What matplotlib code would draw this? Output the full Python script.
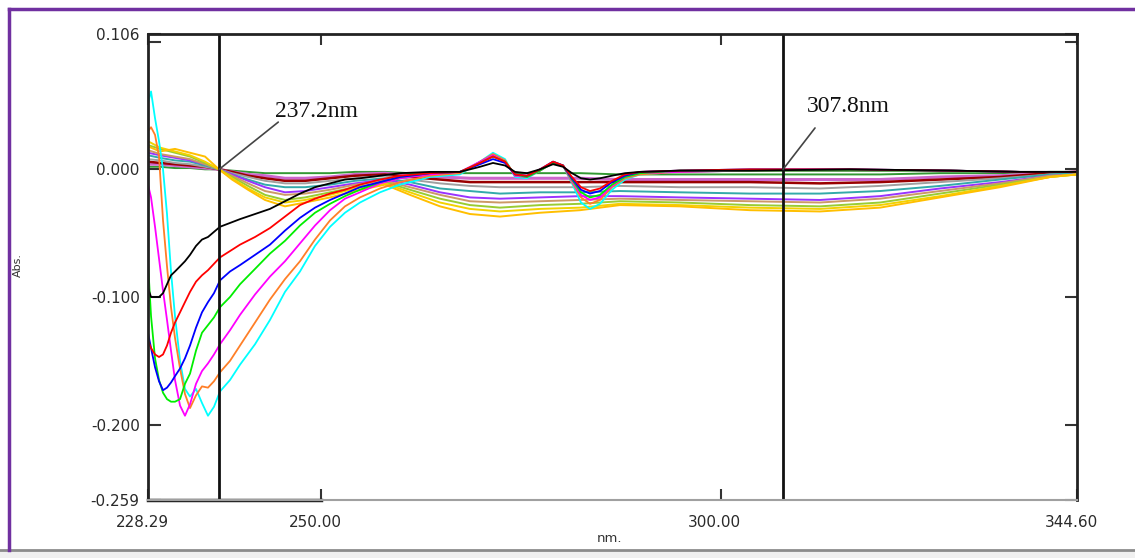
import numpy as np
import matplotlib
matplotlib.use('Agg')
import matplotlib.pyplot as plt
from matplotlib.transforms import ScaledTranslation
from matplotlib.patches import Rectangle
from matplotlib.lines import Line2D

# --- data (nm, Abs.) ---
# strong-trough spectra share one wavelength grid
nm_a = [228.29, 228.67, 229.17, 229.67, 230.17, 230.67, 231.17, 231.67, 232.30, 232.92,
        233.55, 234.30, 235.05, 235.80, 236.55, 237.30, 238.56, 239.81, 241.69, 243.56,
        245.44, 247.32, 249.20, 251.08, 252.95, 254.83, 257.34, 259.84, 263.60, 267.35,
        269.86, 271.48, 272.99, 274.24, 275.74, 277.37, 279.00, 280.25, 281.37, 282.50,
        283.63, 284.88, 286.38, 288.01, 289.89, 294.90, 303.66, 316.18, 328.70, 337.46, 344.60]

black_abs = [-0.093, -0.100, -0.100, -0.100, -0.097, -0.090, -0.083, -0.080, -0.076, -0.072, -0.067, -0.060, -0.055, -0.053, -0.049, -0.045,
             -0.042, -0.039, -0.035, -0.031, -0.025, -0.019, -0.014, -0.011, -0.008, -0.007, -0.005, -0.003, -0.002,
             -0.002, 0.002, 0.005, 0.003, -0.002, -0.003, 0.000, 0.004, 0.002, -0.003, -0.007, -0.008, -0.007, -0.005, -0.003, -0.002, -0.001, -0.001, 0.000, -0.001, -0.002, -0.002]
red_abs = [-0.134, -0.140, -0.145, -0.147, -0.145, -0.138, -0.128, -0.120, -0.112, -0.104, -0.096, -0.088, -0.083, -0.079, -0.074, -0.069,
           -0.064, -0.059, -0.053, -0.046, -0.037, -0.028, -0.023, -0.019, -0.016, -0.012, -0.008, -0.005, -0.003,
           -0.002, 0.005, 0.010, 0.006, -0.004, -0.005, 0.000, 0.006, 0.003, -0.006, -0.014, -0.017, -0.015, -0.009, -0.004, -0.002, -0.001, 0.000, 0.000, -0.001, -0.002, -0.002]
blue_abs = [-0.128, -0.140, -0.155, -0.166, -0.173, -0.171, -0.167, -0.162, -0.156, -0.148, -0.138, -0.124, -0.112, -0.104, -0.097, -0.087,
            -0.080, -0.075, -0.067, -0.059, -0.048, -0.038, -0.030, -0.024, -0.019, -0.014, -0.010, -0.006, -0.003,
            -0.002, 0.004, 0.008, 0.005, -0.004, -0.005, 0.000, 0.006, 0.003, -0.007, -0.016, -0.019, -0.017, -0.010, -0.005, -0.002, -0.001, 0.000, 0.000, -0.001, -0.002, -0.002]
green_abs = [-0.073, -0.115, -0.148, -0.165, -0.175, -0.180, -0.182, -0.182, -0.180, -0.168, -0.160, -0.142, -0.128, -0.122, -0.116, -0.108,
             -0.100, -0.090, -0.078, -0.066, -0.056, -0.044, -0.034, -0.027, -0.021, -0.016, -0.010, -0.006, -0.003,
             -0.002, 0.005, 0.010, 0.006, -0.004, -0.006, -0.001, 0.005, 0.003, -0.008, -0.018, -0.022, -0.020, -0.012, -0.006, -0.003, -0.001, -0.001, -0.001, -0.001, -0.002, -0.002]
magenta_abs = [-0.012, -0.022, -0.045, -0.070, -0.095, -0.118, -0.142, -0.165, -0.185, -0.193, -0.184, -0.168, -0.158, -0.152, -0.145, -0.137,
               -0.126, -0.114, -0.098, -0.084, -0.072, -0.058, -0.044, -0.032, -0.023, -0.018, -0.011, -0.007, -0.004,
               -0.002, 0.006, 0.011, 0.006, -0.005, -0.006, -0.001, 0.005, 0.003, -0.009, -0.020, -0.024, -0.022, -0.013, -0.006, -0.003, -0.002, -0.001, -0.001, -0.001, -0.002, -0.002]
orange_abs = [0.030, 0.033, 0.027, 0.010, -0.040, -0.076, -0.108, -0.132, -0.156, -0.176, -0.187, -0.177, -0.170, -0.171, -0.166, -0.159,
              -0.150, -0.138, -0.120, -0.102, -0.086, -0.072, -0.055, -0.040, -0.029, -0.022, -0.015, -0.010, -0.005,
              -0.003, 0.006, 0.012, 0.007, -0.005, -0.006, -0.001, 0.006, 0.003, -0.010, -0.022, -0.027, -0.024, -0.014, -0.007, -0.004, -0.002, -0.001, -0.001, -0.001, -0.002, -0.002]
cyan_abs = [0.052, 0.061, 0.040, 0.022, 0.000, -0.035, -0.080, -0.115, -0.150, -0.172, -0.178, -0.172, -0.183, -0.193, -0.186, -0.174,
            -0.165, -0.153, -0.137, -0.118, -0.096, -0.080, -0.060, -0.045, -0.034, -0.026, -0.018, -0.012, -0.006,
            -0.004, 0.006, 0.013, 0.008, -0.006, -0.007, -0.001, 0.006, 0.003, -0.011, -0.026, -0.031, -0.027, -0.016, -0.008, -0.004, -0.002, -0.001, -0.001, -0.001, -0.002, -0.002]

# shallow spectra (isosbestic at 237.2 nm) share a second grid
nm_b = [228.29, 229.79, 231.67, 233.55, 235.43, 237.18, 238.81, 240.81, 242.94, 245.44,
        247.95, 251.08, 254.21, 257.96, 261.09, 264.85, 268.60, 272.36, 277.37, 282.38,
        287.38, 294.90, 303.66, 312.42, 319.94, 327.45, 334.96, 341.22, 344.60]

darkgreen_abs = [0.002, 0.002, 0.001, 0.001, 0.000, 0.000, -0.001, -0.002, -0.003, -0.003, -0.003, -0.003, -0.002, -0.002, -0.003,
                 -0.003, -0.003, -0.003, -0.003, -0.003, -0.004, -0.004, -0.004, -0.004, -0.004, -0.003, -0.003, -0.002, -0.002]
orchid_abs = [0.004, 0.004, 0.003, 0.002, 0.001, 0.000, -0.002, -0.004, -0.005, -0.007, -0.007, -0.006, -0.004, -0.003, -0.005,
              -0.006, -0.007, -0.007, -0.007, -0.007, -0.008, -0.008, -0.008, -0.008, -0.008, -0.006, -0.005, -0.003, -0.002]
maroon_abs = [0.006, 0.005, 0.004, 0.003, 0.002, 0.000, -0.002, -0.005, -0.007, -0.009, -0.009, -0.007, -0.005, -0.004, -0.006,
              -0.008, -0.010, -0.010, -0.010, -0.010, -0.010, -0.010, -0.010, -0.011, -0.010, -0.008, -0.006, -0.003, -0.002]
gray_abs = [0.008, 0.007, 0.005, 0.004, 0.002, 0.000, -0.003, -0.006, -0.009, -0.011, -0.011, -0.009, -0.007, -0.005, -0.008,
            -0.011, -0.013, -0.014, -0.014, -0.014, -0.013, -0.014, -0.014, -0.015, -0.013, -0.010, -0.007, -0.004, -0.003]
teal_abs = [0.011, 0.009, 0.007, 0.006, 0.003, 0.000, -0.004, -0.008, -0.012, -0.014, -0.014, -0.012, -0.009, -0.007, -0.010,
            -0.015, -0.017, -0.019, -0.018, -0.018, -0.017, -0.018, -0.019, -0.019, -0.017, -0.013, -0.008, -0.004, -0.003]
purple_abs = [0.013, 0.011, 0.009, 0.007, 0.004, 0.000, -0.004, -0.009, -0.014, -0.018, -0.017, -0.014, -0.011, -0.008, -0.012,
              -0.018, -0.022, -0.023, -0.022, -0.021, -0.021, -0.022, -0.023, -0.024, -0.021, -0.015, -0.010, -0.005, -0.004]
peru_abs = [0.015, 0.012, 0.010, 0.008, 0.004, 0.000, -0.005, -0.011, -0.017, -0.020, -0.019, -0.016, -0.012, -0.009, -0.014,
            -0.020, -0.025, -0.026, -0.025, -0.024, -0.023, -0.024, -0.025, -0.026, -0.023, -0.017, -0.011, -0.005, -0.004]
yellowgreen_abs = [0.019, 0.016, 0.013, 0.010, 0.005, 0.000, -0.006, -0.013, -0.020, -0.024, -0.022, -0.018, -0.014, -0.010, -0.016,
                   -0.023, -0.028, -0.030, -0.028, -0.027, -0.025, -0.026, -0.028, -0.029, -0.026, -0.019, -0.012, -0.006, -0.004]
gold_abs = [0.022, 0.017, 0.014, 0.011, 0.006, 0.000, -0.007, -0.015, -0.022, -0.026, -0.024, -0.020, -0.015, -0.011, -0.018,
            -0.026, -0.031, -0.033, -0.031, -0.030, -0.027, -0.028, -0.030, -0.031, -0.028, -0.021, -0.013, -0.006, -0.004]
amber_abs = [0.018, 0.014, 0.016, 0.013, 0.010, 0.000, -0.008, -0.016, -0.024, -0.029, -0.026, -0.022, -0.017, -0.012, -0.020,
             -0.029, -0.035, -0.037, -0.034, -0.032, -0.028, -0.029, -0.032, -0.033, -0.030, -0.022, -0.014, -0.006, -0.004]

x_ticks = [228.29, 250.00, 300.00, 344.60]
x_ticklabels = ['228.29', '250.00', '300.00', '344.60']
y_ticks = [0.106, 0.000, -0.100, -0.200, -0.259]
y_ticklabels = ['0.106', '0.000', '-0.100', '-0.200', '-0.259']
markers_nm = [237.2, 307.8]

# --- figure ---
W, H = 1135, 558
fig = plt.figure(figsize=(W / 100, H / 100), dpi=100)
ax = fig.add_axes((148 / W, 1 - 500 / H, 929 / W, 466 / H))

shallow = [(darkgreen_abs, '#339933', 1.4), (orchid_abs, '#cc66cc', 2.2), (maroon_abs, '#990000', 1.8),
           (gray_abs, '#a0a0a0', 1.4), (teal_abs, '#33aaaa', 1.4), (purple_abs, '#9933ff', 1.4),
           (peru_abs, '#cc9966', 1.4), (yellowgreen_abs, '#99cc33', 1.4), (gold_abs, '#f2d200', 1.4),
           (amber_abs, '#ffbf00', 1.4)]
for vals, col, lw in shallow:
    ax.plot(nm_b, vals, color=col, lw=lw)

deep = [(cyan_abs, '#00ffff'), (orange_abs, '#ff7f27'), (magenta_abs, '#ff00ff'), (green_abs, '#00ee00'),
        (blue_abs, '#0000ff'), (red_abs, '#ff0000'), (black_abs, '#000000')]
for vals, col in deep:
    ax.plot(nm_a, vals, color=col, lw=1.3)

for m in markers_nm:
    ax.axvline(m, color='#111111', lw=2)

ax.set_xlim(x_ticks[0], x_ticks[-1])
ax.set_ylim(y_ticks[-1], y_ticks[0])

# axis frame
for s in ['left', 'top', 'right']:
    ax.spines[s].set_linewidth(2)
    ax.spines[s].set_color('#222222')
ax.spines['bottom'].set_color('#a0a0a0')
ax.spines['bottom'].set_linewidth(1.5)
ax.axhline(y_ticks[-1], xmin=0, xmax=(250 - x_ticks[0]) / (x_ticks[-1] - x_ticks[0]),
           color='#222222', lw=2.5, clip_on=False)

ax.set_xticks(x_ticks)
ax.set_xticklabels(x_ticklabels)
ax.set_yticks(y_ticks)
ax.set_yticklabels(y_ticklabels)
ax.set_yticks([0.1], minor=True)
ax.tick_params(axis='x', direction='in', length=8, width=1.5, top=True, pad=11,
               labelsize=11, labelcolor='#2a2a2a', color='#333333')
ax.tick_params(axis='y', which='both', direction='in', length=9, width=1.5, right=True, pad=6,
               labelsize=11, labelcolor='#2a2a2a', color='#333333')
shift = ScaledTranslation(-6 / 100, 0, fig.dpi_scale_trans)
for lab in ax.get_xticklabels():
    lab.set_transform(lab.get_transform() + shift)

# wavelength callouts
ax.annotate('', xy=(237.2, 0.0), xytext=(244.6, 0.037),
            arrowprops=dict(arrowstyle='-', color='#444444', lw=1.2, shrinkA=0, shrinkB=0))
ax.text(244.2, 0.041, '237.2nm', family='Liberation Serif', fontsize=17, va='baseline', color='#111111')
ax.annotate('', xy=(307.8, 0.0), xytext=(311.8, 0.0324),
            arrowprops=dict(arrowstyle='-', color='#444444', lw=1.2, shrinkA=0, shrinkB=0))
ax.text(310.8, 0.0449, '307.8nm', family='Liberation Serif', fontsize=17, va='baseline', color='#111111')

fig.text(18 / W, 1 - 265 / H, 'Abs.', rotation=90, fontsize=8, ha='center', va='center', color='#333333')
fig.text(609 / W, 1 - 539 / H, 'nm.', fontsize=9.5, ha='center', va='center', color='#333333')

# window frame
fig.add_artist(Rectangle((0, 0), 1, 8 / H, transform=fig.transFigure, facecolor='#f0f0f0', edgecolor='none'))
fig.add_artist(Line2D([0, 1], [8 / H, 8 / H], transform=fig.transFigure, color='#8c8c8c', lw=2))
fig.add_artist(Line2D([8.5 / W, 8.5 / W], [8 / H, 1 - 8.5 / H], transform=fig.transFigure, color='#7030a0', lw=2.5))
fig.add_artist(Line2D([8.5 / W, 1], [1 - 8.5 / H, 1 - 8.5 / H], transform=fig.transFigure, color='#7030a0', lw=2.5))

fig.savefig('out.png', dpi=100)
